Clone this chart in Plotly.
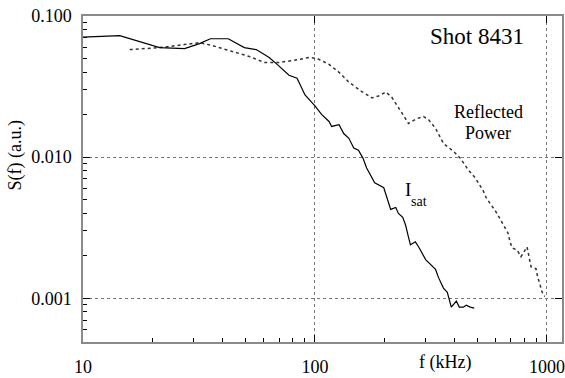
import plotly.graph_objects as go

# I_sat spectrum (solid)
isat_f = [10, 12.4, 14.4, 21.4, 27.4, 31.8, 35.4, 42.3, 49.6, 55.8, 63.5, 68.7, 77.3, 83.7,
          90.6, 100, 107, 115, 118, 127, 133, 140, 147, 154, 161, 167, 181, 198, 212, 223,
          229, 239, 246, 253, 258, 271, 280, 300, 315, 331, 341, 358, 372, 380, 387, 407,
          419, 436, 449, 467, 486]
isat_s = [0.0708, 0.0715, 0.0725, 0.0597, 0.0588, 0.0637, 0.0690, 0.0690, 0.0597, 0.0578,
          0.0508, 0.0454, 0.0380, 0.0362, 0.0276, 0.0231, 0.0200, 0.0179, 0.0165, 0.0170,
          0.0147, 0.0136, 0.0116, 0.0112, 0.00984, 0.00838, 0.00658, 0.00607, 0.00426,
          0.00440, 0.00399, 0.00374, 0.00329, 0.00271, 0.00239, 0.00251, 0.00231, 0.00188,
          0.00173, 0.00160, 0.00140, 0.00118, 0.00110, 0.000984, 0.000865, 0.000953,
          0.000865, 0.000865, 0.000893, 0.000865, 0.000851]

# Reflected power spectrum (dotted)
refl_f = [15.9, 21.4, 27.4, 31.8, 36.1, 42.8, 52.1, 60.4, 70.1, 81.2, 94.2, 102, 115, 127,
          140, 158, 176, 188, 202, 214, 229, 241, 253, 274, 294, 309, 331, 358, 395, 423,
          458, 491, 531, 547, 569, 598, 622, 648, 680, 694, 708, 743, 773, 821, 837, 854,
          897, 915, 933, 943, 961, 980]
refl_s = [0.0578, 0.0597, 0.0627, 0.0648, 0.0617, 0.0569, 0.0517, 0.0469, 0.0469, 0.0485,
          0.0508, 0.0501, 0.0454, 0.0399, 0.0340, 0.0294, 0.0263, 0.0271, 0.0289, 0.0267,
          0.0227, 0.0197, 0.0173, 0.0187, 0.0194, 0.0184, 0.0160, 0.0125, 0.0110, 0.00984,
          0.00811, 0.00713, 0.00578, 0.00517, 0.00469, 0.00419, 0.00375, 0.00329, 0.00289,
          0.00250, 0.00227, 0.00220, 0.00197, 0.00231, 0.00197, 0.00167, 0.00162, 0.00138,
          0.00127, 0.00116, 0.00107, 0.00103]

x_ticks = [10, 100, 1000]
x_ticktext = ["10", "100", "1000"]
x_minor = [20, 30, 40, 50, 60, 70, 80, 90, 200, 300, 400, 500, 600, 700, 800, 900]
y_ticks = [0.1, 0.01, 0.001]
y_ticktext = ["0.100", "0.010", "0.001"]
y_minor = [0.0006, 0.0007, 0.0008, 0.0009, 0.002, 0.003, 0.004, 0.005, 0.006, 0.007,
           0.008, 0.009, 0.02, 0.03, 0.04, 0.05, 0.06, 0.07, 0.08, 0.09]

FONT = "Liberation Serif"
XR = [1, 3.065]
YR = [-3.31, -1]

fig = go.Figure()
fig.add_trace(go.Scatter(x=refl_f, y=refl_s, mode="lines",
                         line=dict(color="#333333", width=1.5, dash="dot"),
                         showlegend=False, xaxis="x", yaxis="y"))
fig.add_trace(go.Scatter(x=isat_f, y=isat_s, mode="lines",
                         line=dict(color="black", width=1.2),
                         showlegend=False, xaxis="x2", yaxis="y2"))

W, H = 565, 378
L, R, T, B = 83, 1, 16, 32
pw, ph = W - L - R, H - T - B

fig.update_layout(
    width=W, height=H,
    margin=dict(l=L, r=R, t=T, b=B),
    showlegend=False,
    paper_bgcolor="white", plot_bgcolor="white",
    font=dict(family=FONT, size=18, color="black"),
    xaxis=dict(type="log", range=XR,
               tickvals=x_ticks, ticktext=x_ticktext,
               ticks="inside", ticklen=7, tickcolor="black", tickwidth=1.2,
               ticklabelstandoff=8,
               showline=True, linecolor="#8a8a8a", linewidth=1.5, mirror="ticks",
               showgrid=True, gridcolor="#777777", griddash="dot", gridwidth=1,
               zeroline=False),
    yaxis=dict(type="log", range=YR,
               tickvals=y_ticks, ticktext=y_ticktext,
               ticks="inside", ticklen=7, tickcolor="black", tickwidth=1.2,
               ticklabelstandoff=6,
               showline=True, linecolor="#8a8a8a", linewidth=1.5, mirror="ticks",
               showgrid=True, gridcolor="#777777", griddash="dot", gridwidth=1,
               zeroline=False),
    xaxis2=dict(type="log", range=XR, overlaying="x", anchor="y2", side="bottom",
                tickvals=x_minor, showticklabels=False,
                ticks="inside", ticklen=4, tickcolor="black", tickwidth=1.2,
                showgrid=False),
    yaxis2=dict(type="log", range=YR, overlaying="y", anchor="x2", side="left",
                tickvals=y_minor, showticklabels=False,
                ticks="inside", ticklen=4, tickcolor="black", tickwidth=1.2,
                showgrid=False),
)

annotations = [
    dict(text="Shot 8431", x=479, y=37, size=23),
    dict(text="Reflected", x=490, y=113, size=18),
    dict(text="Power", x=490, y=134, size=18),
    dict(text="I", x=409, y=192, size=19),
    dict(text="sat", x=420, y=204, size=14),
    dict(text="f (kHz)", x=447, y=367, size=18),
]
for a in annotations:
    fig.add_annotation(text=a["text"], x=(a["x"] - L) / pw, y=1 - (a["y"] - T) / ph,
                       xref="paper", yref="paper", showarrow=False,
                       xanchor="center", yanchor="middle",
                       font=dict(family=FONT, size=a["size"], color="black"))
fig.add_annotation(text="S(f) (a.u.)", x=(15 - L) / pw, y=1 - (157 - T) / ph,
                   xref="paper", yref="paper", showarrow=False, textangle=-90,
                   xanchor="center", yanchor="middle",
                   font=dict(family=FONT, size=18, color="black"))

fig.write_html("out.html")
